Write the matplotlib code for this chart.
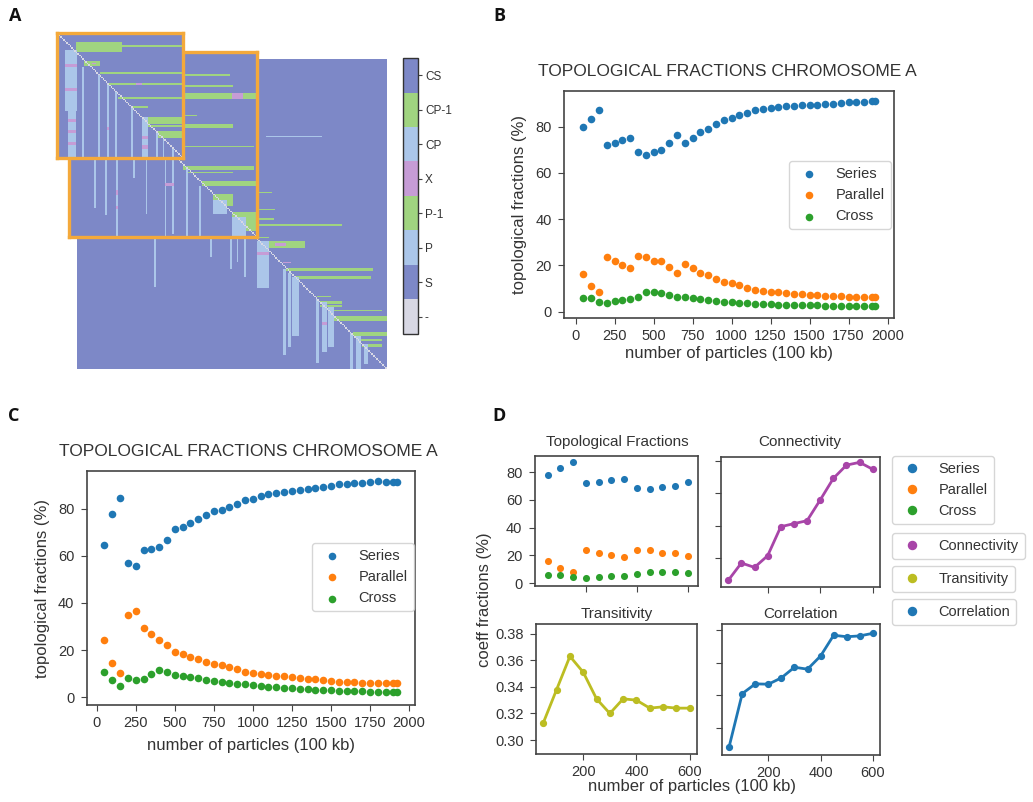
import numpy as np
import matplotlib
matplotlib.use("Agg")
import matplotlib.pyplot as plt
from matplotlib.colors import ListedColormap
from matplotlib.lines import Line2D

plt.rcParams['font.family'] = ['Liberation Sans', 'DejaVu Sans']
TXT = '#333333'
plt.rcParams.update({
    'text.color': TXT, 'axes.labelcolor': TXT, 'xtick.color': '#444444', 'ytick.color': '#444444',
    'xtick.labelcolor': TXT, 'ytick.labelcolor': TXT, 'axes.edgecolor': '#444444',
    'axes.linewidth': 1.2, 'xtick.major.size': 4, 'ytick.major.size': 4,
    'xtick.major.pad': 4, 'ytick.major.pad': 5, 'xtick.labelsize': 10.5, 'ytick.labelsize': 10.5,
})

# ---------------- data ----------------
# Panel A: topology categories and matrix blocks (r0, r1, c0, c1, category)
topo_labels = ['-', 'S', 'P', 'P-1', 'X', 'CP', 'CP-1', 'CS']
topo_colors = ['#d8d8e4', '#7d88c7', '#abc6e9', '#a0d480', '#c69cd6', '#abc6e9', '#a0d480', '#7d88c7']

main_size = 200
main_blocks = [
    (86, 86, 117, 125, 6), (97, 97, 117, 127, 6), (103, 103, 117, 126, 6), (107, 107, 117, 170, 6),
    (115, 115, 117, 123, 6), (118, 121, 120, 146, 6), (119, 120, 128, 134, 4), (50, 50, 122, 157, 5),
    (135, 136, 135, 190, 6), (140, 141, 140, 189, 6), (153, 153, 155, 163, 6), (156, 157, 157, 170, 6),
    (159, 159, 157, 170, 6), (162, 162, 163, 196, 6), (166, 168, 165, 199, 6), (176, 178, 178, 200, 6),
    (181, 181, 183, 196, 6), (184, 185, 184, 196, 6),
    (115, 146, 50, 50, 2), (115, 127, 86, 86, 2), (115, 135, 99, 99, 2), (115, 130, 103, 103, 2),
    (115, 140, 108, 108, 2), (118, 147, 116, 123, 2), (136, 190, 133, 134, 2), (138, 185, 136, 137, 2),
    (141, 178, 139, 142, 2), (155, 195, 154, 155, 2), (157, 188, 158, 160, 2), (160, 185, 162, 165, 2),
    (177, 200, 176, 177, 2), (179, 199, 180, 182, 2), (184, 196, 185, 187, 2),
    (125, 126, 116, 123, 4), (131, 131, 133, 137, 4), (170, 171, 158, 160, 4),
]

mid_size = 120
mid_blocks = [
    (15, 15, 73, 102, 6), (22, 22, 73, 104, 6), (27, 30, 73, 120, 6), (27, 30, 104, 110, 4),
    (41, 41, 73, 81, 6), (47, 49, 73, 104, 6), (61, 61, 73, 117, 6), (74, 76, 73, 117, 6),
    (78, 78, 75, 104, 6), (84, 86, 85, 120, 6), (92, 99, 92, 104, 6), (104, 115, 104, 120, 6),
    (69, 100, 16, 16, 2), (69, 105, 23, 23, 2), (69, 119, 30, 30, 2), (69, 81, 41, 41, 2),
    (69, 104, 49, 49, 2), (69, 119, 61, 61, 2), (69, 117, 66, 66, 2), (76, 119, 75, 75, 2),
    (87, 119, 83, 83, 2), (96, 104, 92, 100, 2), (107, 119, 104, 112, 2),
    (90, 92, 30, 30, 4), (100, 101, 30, 30, 4), (85, 86, 61, 66, 4),
]

small_size = 80
small_blocks = [
    (6, 11, 12, 40, 6), (8, 8, 40, 79, 6), (18, 20, 17, 26, 6), (19, 19, 22, 24, 4),
    (25, 25, 27, 79, 6), (32, 32, 32, 79, 6), (32, 32, 50, 53, 4), (41, 41, 39, 79, 6),
    (47, 47, 47, 57, 6), (54, 57, 54, 79, 6), (59, 59, 57, 79, 6), (63, 66, 63, 79, 6),
    (11, 49, 5, 12, 2), (49, 79, 7, 11, 2), (22, 79, 16, 16, 2), (26, 79, 26, 26, 2),
    (32, 79, 32, 32, 2), (37, 79, 37, 37, 2), (47, 79, 47, 47, 2), (54, 79, 54, 57, 2),
    (63, 79, 63, 63, 2), (67, 79, 67, 67, 2), (73, 79, 73, 73, 2),
    (20, 21, 5, 12, 4), (35, 36, 5, 12, 4), (55, 56, 7, 11, 4), (62, 63, 7, 11, 4),
    (70, 71, 7, 11, 4), (66, 67, 54, 57, 4), (72, 73, 54, 57, 4), (60, 61, 32, 32, 4),
]

# Panel B
particles_B = [50, 100, 150, 200, 250, 300, 350, 400, 450, 500, 550, 600, 650, 700, 750, 800, 850, 900,
               950, 1000, 1050, 1100, 1150, 1200, 1250, 1300, 1350, 1400, 1450, 1500, 1550, 1600, 1650,
               1700, 1750, 1800, 1850, 1900, 1920]
series_B = [79.9, 83.3, 87.1, 72.2, 72.9, 74.2, 75.1, 68.9, 67.6, 69.0, 69.8, 72.9, 76.4, 72.8, 75.1,
            77.8, 79.0, 81.2, 82.7, 83.7, 84.9, 86.1, 87.1, 87.6, 88.2, 88.5, 88.8, 89.1, 89.2, 89.4,
            89.5, 89.8, 89.9, 90.2, 90.5, 90.7, 90.8, 91.0, 91.0]
parallel_B = [16.3, 11.1, 8.4, 23.5, 21.9, 20.3, 19.0, 24.1, 23.5, 21.9, 21.9, 19.3, 16.7, 20.5, 18.7,
              16.9, 15.9, 14.0, 13.0, 12.3, 11.4, 10.4, 9.4, 9.1, 8.6, 8.4, 8.1, 7.8, 7.5, 7.3,
              7.2, 7.0, 6.9, 6.7, 6.5, 6.4, 6.3, 6.2, 6.2]
cross_B = [5.8, 5.9, 4.2, 3.6, 4.5, 5.0, 5.5, 6.5, 8.4, 8.5, 8.2, 7.2, 6.3, 6.3, 5.8, 5.3, 5.0, 4.6,
           4.3, 4.0, 3.7, 3.6, 3.5, 3.3, 3.2, 3.1, 3.0, 2.9, 2.9, 2.8, 2.8, 2.7, 2.7, 2.6, 2.6, 2.5,
           2.5, 2.5, 2.5]

# Panel C
particles_C = particles_B
series_C = [64.7, 77.8, 84.6, 56.8, 55.5, 62.3, 62.7, 63.8, 66.8, 71.5, 72.2, 73.7, 75.6, 77.3, 78.8,
            79.4, 80.8, 82.1, 83.5, 84.2, 85.2, 86.0, 86.6, 86.9, 87.3, 88.0, 88.4, 88.7, 89.3, 89.7,
            90.3, 90.5, 90.8, 91.0, 91.4, 91.5, 91.4, 91.2, 91.2]
parallel_C = [24.3, 14.7, 10.2, 34.9, 36.6, 29.4, 26.6, 24.3, 22.2, 19.1, 18.2, 17.2, 16.4, 14.8, 14.1,
              13.7, 12.7, 11.9, 10.9, 10.2, 9.8, 9.3, 9.0, 8.9, 8.6, 8.2, 7.9, 7.6, 7.3, 6.9,
              6.6, 6.5, 6.4, 6.2, 6.1, 5.9, 5.9, 5.9, 5.9]
cross_C = [10.5, 7.1, 4.8, 8.1, 7.3, 7.6, 10.0, 11.6, 10.9, 9.3, 9.2, 8.6, 8.1, 7.3, 6.9, 6.6, 6.2, 5.8,
           5.5, 5.2, 4.8, 4.5, 4.2, 4.0, 3.7, 3.5, 3.4, 3.2, 3.1, 3.0, 2.8, 2.7, 2.5, 2.5, 2.4, 2.4,
           2.3, 2.3, 2.3]

# Panel D
particles_D = [50, 100, 150, 200, 250, 300, 350, 400, 450, 500, 550, 600]
series_D = [78.1, 82.9, 87.2, 72.3, 73.0, 74.5, 75.4, 68.9, 67.7, 69.2, 69.9, 73.3]
parallel_D = [15.9, 11.1, 8.2, 23.8, 22.1, 20.4, 19.2, 24.3, 23.8, 22.1, 21.9, 19.5]
cross_D = [5.8, 6.0, 4.3, 3.8, 4.3, 5.0, 5.5, 7.0, 8.4, 8.4, 8.2, 7.2]
connectivity_D = [0.64, 1.71, 1.44, 2.16, 3.95, 4.14, 4.32, 5.60, 6.93, 7.75, 7.92, 7.49]
transitivity_D = [0.313, 0.338, 0.363, 0.351, 0.331, 0.320, 0.331, 0.330, 0.324, 0.325, 0.324, 0.324]
correlation_D = [0.3086, 0.3410, 0.3470, 0.3468, 0.3507, 0.3572, 0.3560, 0.3641, 0.3768, 0.3759,
                 0.3764, 0.3780]

C_SER, C_PAR, C_CRO = '#1f77b4', '#ff7f0e', '#2ca02c'
C_CONN, C_TRANS, C_CORR = '#a845a8', '#bcbd22', '#1f77b4'
ORANGE = '#f4a93b'

# ---------------- figure ----------------
W, H = 1033, 802
fig = plt.figure(figsize=(W / 100, H / 100), dpi=100)


def add_ax(l, t, r, b):
    return fig.add_axes([l / W, 1 - b / H, (r - l) / W, (b - t) / H])


def ftext(x, y, s, **kw):
    kw.setdefault('ha', 'center')
    kw.setdefault('va', 'center')
    return fig.text(x / W, 1 - y / H, s, **kw)


# ---- Panel A ----
cmap = ListedColormap(topo_colors)


def build(n, blocks):
    m = np.where(np.triu(np.ones((n, n)), 1) > 0, 7, 1)
    for r0, r1, c0, c1, cat in blocks:
        m[r0:r1 + 1, c0:c1 + 1] = cat
    np.fill_diagonal(m, 0)
    return m


def draw_matrix(ax, n, blocks, border=None):
    im = ax.imshow(build(n, blocks), cmap=cmap, vmin=-0.5, vmax=7.5, interpolation='nearest', aspect='auto')
    ax.set_xticks([])
    ax.set_yticks([])
    for s in ax.spines.values():
        if border:
            s.set_color(border)
            s.set_linewidth(2.4)
        else:
            s.set_visible(False)
    return im


axA = add_ax(77, 59, 387, 369)
im = draw_matrix(axA, main_size, main_blocks)
axA2 = add_ax(69, 52, 257, 237)
draw_matrix(axA2, mid_size, mid_blocks, ORANGE)
axA3 = add_ax(57, 33, 183, 158)
draw_matrix(axA3, small_size, small_blocks, ORANGE)

cax = add_ax(403, 58, 418, 334)
cb = fig.colorbar(im, cax=cax, ticks=range(len(topo_labels)))
cb.set_ticklabels(topo_labels)
cb.ax.tick_params(labelsize=8.5, length=3, pad=2)
cb.outline.set_linewidth(1.0)
cb.outline.set_edgecolor('#333333')


def topo_scatter(ax, x, s, p, c, size=30):
    ax.scatter(x, s, s=size, color=C_SER, label='Series', linewidths=0, zorder=3)
    ax.scatter(x, p, s=size, color=C_PAR, label='Parallel', linewidths=0, zorder=3)
    ax.scatter(x, c, s=size, color=C_CRO, label='Cross', linewidths=0, zorder=3)


# ---- Panel B ----
axB = add_ax(564, 91, 894, 318)
topo_scatter(axB, particles_B, series_B, parallel_B, cross_B)
axB.set_xlim(-74, 2041)
axB.set_ylim(-2.7, 95.4)
axB.set_xticks(range(0, 2001, 250))
axB.set_yticks(range(0, 81, 20))
axB.set_xlabel('number of particles (100 kb)', fontsize=12)
axB.set_ylabel('topological fractions (%)', fontsize=12)
axB.xaxis.set_label_coords(0.5, (318 - 346) / 227)
axB.yaxis.set_label_coords((527 - 564) / 330, 0.5)
axB.legend(loc='upper left', bbox_to_anchor=(789 / W, 1 - 161 / H), bbox_transform=fig.transFigure,
           borderaxespad=0, fontsize=10.5, scatterpoints=1)
ftext(727, 72, 'TOPOLOGICAL FRACTIONS CHROMOSOME A', fontsize=12.5)

# ---- Panel C ----
axC = add_ax(87, 471, 415, 705)
topo_scatter(axC, particles_C, series_C, parallel_C, cross_C)
axC.set_xlim(-62, 2038)
axC.set_ylim(-3.3, 95.9)
axC.set_xticks(range(0, 2001, 250))
axC.set_yticks(range(0, 81, 20))
axC.set_xlabel('number of particles (100 kb)', fontsize=12)
axC.set_ylabel('topological fractions (%)', fontsize=12)
axC.xaxis.set_label_coords(0.5, (705 - 738) / 234)
axC.yaxis.set_label_coords((50 - 87) / 328, 0.5)
axC.legend(loc='upper left', bbox_to_anchor=(312 / W, 1 - 543 / H), bbox_transform=fig.transFigure,
           borderaxespad=0, fontsize=10.5, scatterpoints=1)
ftext(248, 452, 'TOPOLOGICAL FRACTIONS CHROMOSOME A', fontsize=12.5)

# ---- Panel D ----
axTL = add_ax(535, 456, 698, 586)
axTR = add_ax(721, 457, 880, 587)
axBL = add_ax(536, 624, 697, 754)
axBR = add_ax(722, 624, 880, 755)

topo_scatter(axTL, particles_D, series_D, parallel_D, cross_D, size=26)
axTL.set_xlim(0, 640)
axTL.set_ylim(-2, 91.7)
axTL.set_yticks(range(0, 81, 20))

axTR.plot(particles_D, connectivity_D, '-o', color=C_CONN, lw=2, ms=4.2)
axTR.set_xlim(22.5, 627.5)
axTR.set_ylim(0.23, 8.25)
axTR.set_yticks([2, 4, 6, 8])
axTR.set_yticklabels([])

axBL.plot(particles_D, transitivity_D, '-o', color=C_TRANS, lw=2, ms=4.2)
axBL.set_xlim(22.5, 627.5)
axBL.set_ylim(0.2895, 0.3873)
axBL.set_yticks([0.30, 0.32, 0.34, 0.36, 0.38])
axBL.set_yticklabels(['0.30', '0.32', '0.34', '0.36', '0.38'])

axBR.plot(particles_D, correlation_D, '-o', color=C_CORR, lw=2, ms=4.2)
axBR.set_xlim(22.5, 627.5)
axBR.set_ylim(0.3034, 0.3837)
axBR.set_yticks([0.32, 0.34, 0.36, 0.38])
axBR.set_yticklabels([])

for a in (axTL, axTR, axBL, axBR):
    a.set_xticks([200, 400, 600])
for a in (axTL, axTR):
    a.set_xticklabels([])

ftext(617, 442, 'Topological Fractions', fontsize=11)
ftext(800, 442, 'Connectivity', fontsize=11)
ftext(617, 614, 'Transitivity', fontsize=11)
ftext(801, 614, 'Correlation', fontsize=11)
ftext(692, 787, 'number of particles (100 kb)', fontsize=12)
ftext(485, 600, 'coeff fractions (%)', fontsize=12, rotation=90)

# legends for D
h_topo = [Line2D([], [], ls='', marker='o', ms=5.8, color=c) for c in (C_SER, C_PAR, C_CRO)]
fig.legend(h_topo, ['Series', 'Parallel', 'Cross'], loc='upper left',
           bbox_to_anchor=(892 / W, 1 - 456 / H), borderaxespad=0, fontsize=10.5)
for top, col, lab in ((533, C_CONN, 'Connectivity'), (566, C_TRANS, 'Transitivity'), (599, C_CORR, 'Correlation')):
    fig.legend([Line2D([], [], ls='', marker='o', ms=5.8, color=col)], [lab], loc='upper left',
               bbox_to_anchor=(892 / W, 1 - top / H), borderaxespad=0, fontsize=10.5)

# panel letters
for x, y, s in ((15, 16, 'A'), (499, 16, 'B'), (14, 416, 'C'), (499, 416, 'D')):
    ftext(x, y, s, fontsize=13, fontweight='bold', family=['Open Sans', 'DejaVu Sans'], color='#111111')

fig.savefig('out.png', dpi=100, facecolor='white')
